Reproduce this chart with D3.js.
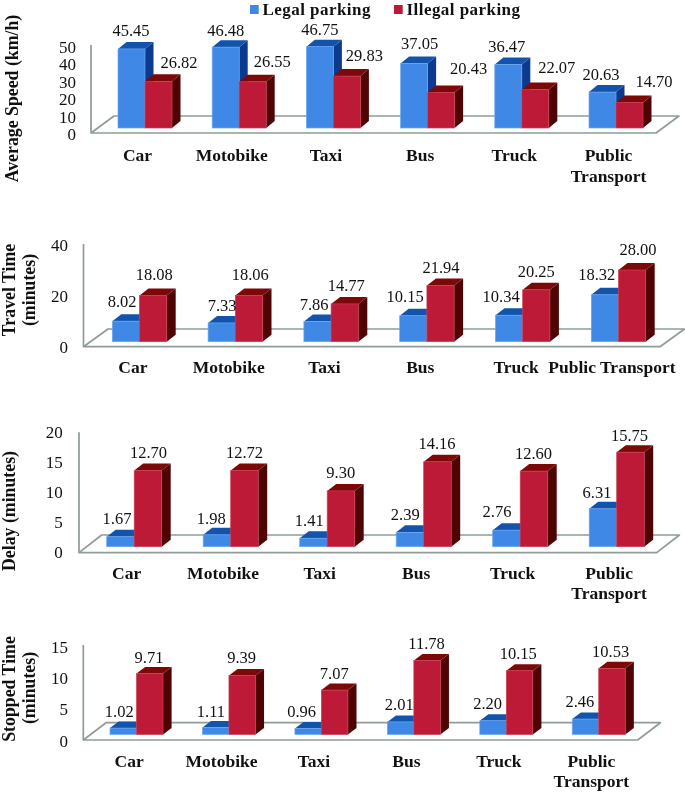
<!DOCTYPE html>
<html><head><meta charset="utf-8">
<script src="https://cdn.jsdelivr.net/npm/d3@7/dist/d3.min.js"></script>
<style>
html,body{margin:0;padding:0;background:#fff;}
svg{display:block;filter:blur(0.35px);}
text{font-family:"Liberation Serif",serif;fill:#111;}
</style></head><body>
<svg id="c" width="685" height="793"></svg>
<script>
// ---- data ----
const categories = ["Car","Motobike","Taxi","Bus","Truck","Public Transport"];
const seriesNames = ["Legal parking","Illegal parking"];
const speedLegal = [45.45,46.48,46.75,37.05,36.47,20.63];
const speedIllegal = [26.82,26.55,29.83,20.43,22.07,14.70];
const travelLegal = [8.02,7.33,7.86,10.15,10.34,18.32];
const travelIllegal = [18.08,18.06,14.77,21.94,20.25,28.00];
const delayLegal = [1.67,1.98,1.41,2.39,2.76,6.31];
const delayIllegal = [12.70,12.72,9.30,14.16,12.60,15.75];
const stoppedLegal = [1.02,1.11,0.96,2.01,2.20,2.46];
const stoppedIllegal = [9.71,9.39,7.07,11.78,10.15,10.53];
const speedTicks = [0,10,20,30,40,50];
const travelTicks = [0,20,40];
const delayTicks = [0,5,10,15,20];
const stoppedTicks = [0,5,10,15];

// ---- layout ----
const palette = [
  {front:"#3f88e6",edge:"#6ba8f0",top:"#1254ab",side:"#0b3a8e"},
  {front:"#bd1a38",edge:"#cb3f58",top:"#7d0808",side:"#4f0404"}
];
const grey = "#8f9c98";
const panels = [
 {legal:speedLegal,illegal:speedIllegal,ticks:speedTicks,max:50,
  axisX:91,axisTop:45,frontY:133,dx:23,dy:17,rightFront:656,
  start:118,step:94.2,barW:27,baseY:128,pxPerUnit:1.74,depthX:8.5,depthY:7,
  tickPad:15,tickTop:47,tickBottom:134,
  title:[{t:"Average Speed (km/h)",x:18,y:98.5}],
  catDx:-7.5,catY:161,wrap:true,lineH:20.5,
  nudgeL:[[-.5,-18],[0,-16],[0,-17],[5.5,-20],[-1.5,-17.5],[-1.5,-17]],
  nudgeR:[[20.5,-19],[19.5,-20],[17.5,-20],[27.5,-23.5],[21.5,-21.6],[24.5,-21]]},
 {legal:travelLegal,illegal:travelIllegal,ticks:travelTicks,max:40,
  axisX:83.5,axisTop:244,frontY:346.7,dx:24.5,dy:17.7,rightFront:660,
  start:112.3,step:95.8,barW:27.2,baseY:341.7,pxPerUnit:2.56,depthX:9,depthY:7,
  tickPad:15.5,tickTop:245,tickBottom:346.7,
  title:[{t:"Travel Time",x:14.5,y:290},{t:"(minutes)",x:35,y:290}],
  catDx:-6.6,catY:372.7,wrap:false,lineH:20.5,
  nudgeL:[[-3.8,-19.5],[.4,-17.2],[-3.4,-16.6],[-8.2,-18.7],[-8,-18.2],[-8.1,-19.8]],
  nudgeR:[[1.2,-20.4],[1.4,-20.5],[1.6,-18.2],[.5,-17.5],[0,-18.2],[5.9,-20.7]]},
 {legal:delayLegal,illegal:delayIllegal,ticks:delayTicks,max:20,
  axisX:79,axisTop:432.3,frontY:552.7,dx:22.7,dy:17.7,rightFront:656.7,
  start:106.7,step:96.5,barW:27.5,baseY:546.7,pxPerUnit:6,depthX:9,depthY:7,
  tickPad:16.3,tickTop:432,tickBottom:552,
  title:[{t:"Delay (minutes)",x:15,y:511}],
  catDx:-7.6,catY:579,wrap:true,lineH:20.3,
  nudgeL:[[-3.5,-17.7],[-5.7,-15.8],[-4.2,-17.2],[-4.7,-17.4],[-9.5,-18.1],[-6,-16.5]],
  nudgeR:[[.6,-17.8],[.1,-17.7],[-.2,-18.2],[-.5,-17.7],[-.4,-17.1],[-.9,-16.9]]},
 {legal:stoppedLegal,illegal:stoppedIllegal,ticks:stoppedTicks,max:15,
  axisX:83.3,axisTop:645,frontY:740,dx:22.7,dy:17.3,rightFront:637.7,
  start:110,step:92.45,barW:26.5,baseY:734.5,pxPerUnit:6.28,depthX:8.6,depthY:6.5,
  tickPad:15.3,tickTop:646.7,tickBottom:740.7,
  title:[{t:"Stopped Time",x:14.5,y:689},{t:"(minutes)",x:35,y:688}],
  catDx:-7.4,catY:766.7,wrap:true,lineH:20.7,
  nudgeL:[[-4,-16.4],[-4.8,-15.8],[-6.5,-16.8],[-1.4,-16.9],[-5.4,-16.7],[-5.6,-17.3]],
  nudgeR:[[-.8,-15.8],[-.6,-17.8],[-.4,-16.8],[-.5,-16.5],[-1.3,-17.1],[-1.4,-16.7]]}
];
const valueFont = 16.5, tickFont = 17, catFont = 17.5, titleFont = 17.8, legendFont = 17;

const svg = d3.select("#c");
const poly = pts => d3.line()(pts) + "Z";

panels.forEach(p => {
  const g = svg.append("g");
  const x = d3.scaleBand().domain(categories).range([p.start, p.start + p.step*6]);
  const sub = d3.scaleBand().domain(seriesNames).range([0, p.barW*2]);
  const y = d3.scaleLinear().domain([0,p.max]).range([p.baseY, p.baseY - p.pxPerUnit*p.max]);

  // floor and walls
  const wall = [[p.axisX,p.axisTop],[p.axisX,p.frontY],[p.rightFront,p.frontY],
                [p.rightFront+p.dx,p.frontY-p.dy],[p.axisX+p.dx,p.frontY-p.dy],[p.axisX,p.frontY]];
  g.append("path").attr("d",d3.line()(wall)).attr("fill","none")
    .attr("stroke",grey).attr("stroke-width",1.7).attr("stroke-linejoin","round");

  // axis tick labels
  const tickScale = d3.scaleLinear().domain([0,p.max]).range([p.tickBottom,p.tickTop]);
  const ax = g.append("g").attr("transform",`translate(${p.axisX},0)`)
    .call(d3.axisLeft(tickScale).tickValues(p.ticks).tickSize(0).tickPadding(p.tickPad));
  ax.select(".domain").remove();
  ax.selectAll("text").style("font-family",'"Liberation Serif",serif').style("font-size",tickFont+"px").attr("fill","#111");

  // bars
  categories.forEach((c,i) => {
    [p.legal,p.illegal].forEach((vals,s) => {
      const name = seriesNames[s], col = palette[s], v = vals[i];
      const x0 = x(c)+sub(name), x1 = x0+sub.bandwidth(), yt = y(v), yb = y(0);
      const dx = p.depthX, dy = p.depthY;
      g.append("path").attr("d",poly([[x1,yb],[x1,yt],[x1+dx,yt-dy],[x1+dx,yb-dy]])).attr("fill",col.side);
      g.append("path").attr("d",poly([[x0,yt],[x0+dx,yt-dy],[x1+dx,yt-dy],[x1,yt]])).attr("fill",col.top);
      g.append("rect").attr("x",x0).attr("y",yt).attr("width",sub.bandwidth()).attr("height",yb-yt)
        .attr("fill",col.front).attr("stroke",col.edge).attr("stroke-width",0.7);
    });
  });

  // value labels
  categories.forEach((c,i) => {
    [p.legal,p.illegal].forEach((vals,s) => {
      const name = seriesNames[s], v = vals[i], n = (s?p.nudgeR:p.nudgeL)[i];
      g.append("text")
        .attr("x",x(c)+sub(name)+sub.bandwidth()/2+n[0])
        .attr("y",y(v)+n[1]).attr("dy","0.32em")
        .attr("text-anchor","middle").attr("font-size",valueFont)
        .text(v.toFixed(2));
    });
  });

  // category labels
  categories.forEach(c => {
    const cx = x(c)+p.barW+p.catDx;
    const lines = (p.wrap && c.includes(" ")) ? c.split(" ") : [c];
    lines.forEach((l,k) => g.append("text").attr("x",cx).attr("y",p.catY+k*p.lineH)
      .attr("text-anchor","middle").attr("font-size",catFont).attr("font-weight","bold").text(l));
  });

  // y title
  p.title.forEach(t => g.append("text")
    .attr("transform",`translate(${t.x},${t.y}) rotate(-90)`)
    .attr("text-anchor","middle").attr("font-size",titleFont).attr("font-weight","bold").text(t.t));
});

// legend
const legendX = d3.scaleOrdinal().domain(seriesNames).range([250,394]);
seriesNames.forEach((n,s) => {
  svg.append("rect").attr("x",legendX(n)).attr("y",5).attr("width",8.7).attr("height",9).attr("fill",palette[s].front);
  svg.append("text").attr("x",legendX(n)+12.5).attr("y",15.4).attr("font-size",legendFont)
    .attr("letter-spacing",0.45).attr("font-weight","bold").text(n);
});
</script>
</body></html>
